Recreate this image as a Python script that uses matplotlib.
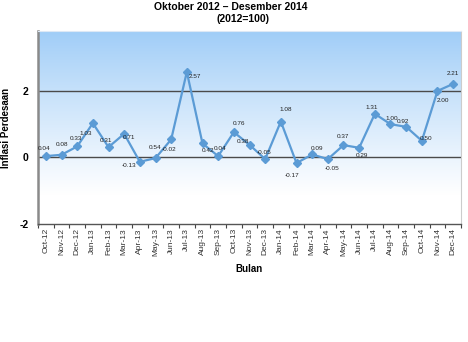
import numpy as np
import matplotlib
matplotlib.use("Agg")
import matplotlib.pyplot as plt

months = ["Oct-12", "Nov-12", "Dec-12", "Jan-13", "Feb-13", "Mar-13", "Apr-13", "May-13",
          "Jun-13", "Jul-13", "Aug-13", "Sep-13", "Oct-13", "Nov-13", "Dec-13", "Jan-14",
          "Feb-14", "Mar-14", "Apr-14", "May-14", "Jun-14", "Jul-14", "Aug-14", "Sep-14",
          "Oct-14", "Nov-14", "Dec-14"]
inflasi = [0.04, 0.08, 0.33, 1.03, 0.31, 0.71, -0.13, -0.02, 0.54, 2.57, 0.42, 0.04, 0.76,
           0.38, -0.05, 1.08, -0.17, 0.09, -0.05, 0.37, 0.29, 1.31, 1.00, 0.92, 0.50, 2.00, 2.21]
yticks = [-2, 0, 2]

# label offsets (pixels) for data labels
label_offsets = [(-2, 8), (0, 10), (-1, 8), (-7, -10), (-3, 7), (5, -4), (-11, -4), (14, 9),
                 (-16, -8), (8, -5), (5, -7), (2, 8), (5, 9), (-7, 3), (-1, 7), (5, 12),
                 (-4, -12), (5, 6), (4, -9), (-1, 9), (3, -8), (-3, 6), (1, 6), (-3, 5),
                 (4, 2), (5, -10), (0, 10)]

plt.rcParams['font.family'] = ['Liberation Sans', 'DejaVu Sans']

fig = plt.figure(figsize=(4.68, 3.42), dpi=100)
ax = fig.add_axes([38/468, 1-224/342, (461-38)/468, (224-31)/342])

n = len(months)
x = np.arange(n)

# gradient background (row 0 = top)
grad = np.linspace(0, 1, 256).reshape(-1, 1)
top = np.array([0.62, 0.80, 0.97])
bot = np.array([1.0, 1.0, 1.0])
t = np.clip(grad / 0.85, 0, 1) ** 0.9
img = top[None, None, :] * (1 - t[..., None]) + bot[None, None, :] * t[..., None]
ax.imshow(img, extent=[-0.5, n-0.5, -2, 3.8], origin='upper', aspect='auto', zorder=0)
ax.set_xlim(-0.5, n-0.5)
ax.set_ylim(-2, 3.8)

for yv in [0, 2]:
    ax.axhline(yv, color='#4a4a4a', lw=1.0, zorder=1)

ax.plot(x, inflasi, color='#5b9bd5', lw=1.6, marker='D', markersize=3.6,
        markerfacecolor='#5b9bd5', markeredgecolor='#5b9bd5', zorder=3)

for xi, yi, (dx, dy) in zip(x, inflasi, label_offsets):
    ax.annotate(f"{yi:.2f}", (xi, yi), xytext=(dx, dy), textcoords='offset pixels',
                ha='center', va='center', fontsize=4.6, color='#222222', zorder=4)

# ticks
ax.set_yticks(yticks)
ax.set_yticklabels([str(v) for v in yticks], fontsize=7.5, fontweight='bold')
ax.tick_params(axis='y', length=0, pad=7)
ax.set_xticks(np.arange(-0.5, n, 1.0))
ax.set_xticklabels([])
ax.tick_params(axis='x', which='major', length=3, color='#444444', direction='out')
ax.set_xticks(x, minor=True)
ax.set_xticklabels(months, minor=True, rotation=90, fontsize=6, color='#333333')
ax.tick_params(axis='x', which='minor', length=0, pad=3)

ax.spines['left'].set_color('#8a8a8a')
ax.spines['left'].set_linewidth(1.8)
ax.spines['bottom'].set_color('#555555')
ax.spines['bottom'].set_linewidth(1.0)
ax.spines['right'].set_color('#cccccc')
ax.spines['top'].set_color('#dde8f5')

ax.set_ylabel("Inflasi Perdesaan", fontsize=7, fontweight='bold')
ax.yaxis.set_label_coords(-0.065, 0.5)
ax.set_xlabel("Bulan", fontsize=7, fontweight='bold', labelpad=6)

fig.text(0.492, 1-7/342, "Oktober 2012 \u2013 Desember 2014", ha='center', va='center',
         fontsize=7.5, fontweight='bold')
fig.text(0.52, 1-19/342, "(2012=100)", ha='center', va='center', fontsize=7.5, fontweight='bold')

fig.savefig("out.png", dpi=100)
